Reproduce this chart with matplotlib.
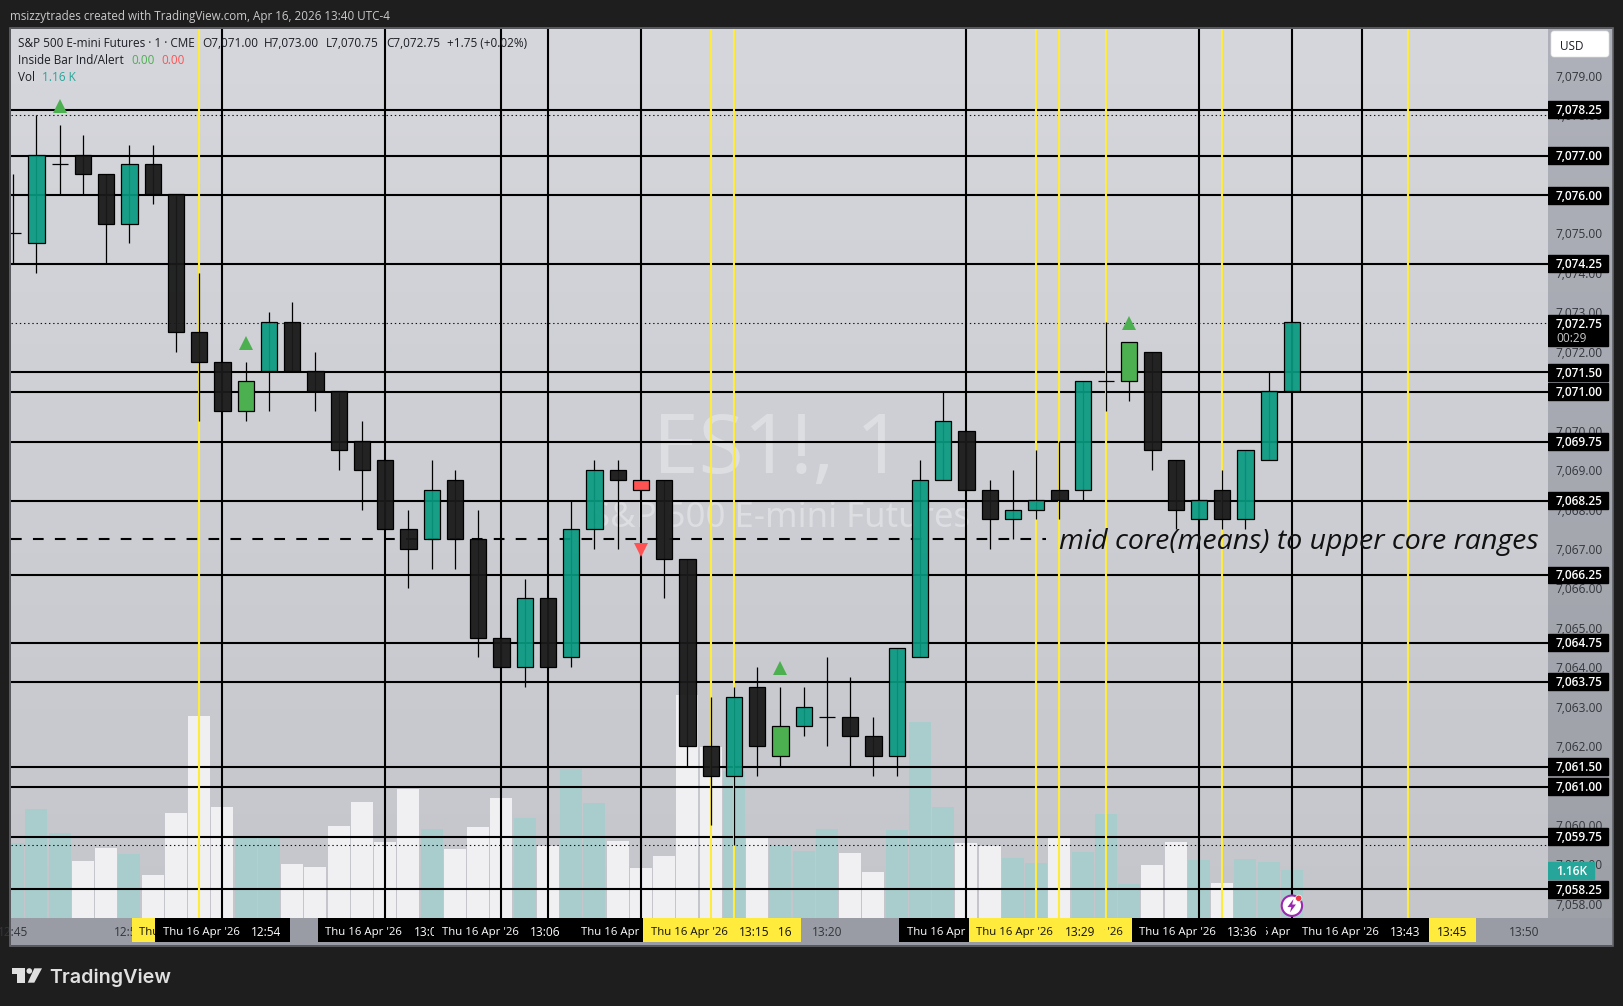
import numpy as np
import matplotlib
matplotlib.use("Agg")
import matplotlib.pyplot as plt
from matplotlib.patches import Rectangle, FancyBboxPatch, Polygon, Circle
from matplotlib.transforms import Affine2D

W, H = 1623, 1006
plt.rcParams["font.family"] = ["Open Sans", "DejaVu Sans"]
plt.rcParams["lines.scale_dashes"] = False

# candles, one per minute starting 12:45
opens = [7075, 7074.75, 7076.75, 7077, 7076.5, 7075.25, 7076.75, 7076, 7072.5, 7071.75,
         7070.5, 7071.5, 7072.75, 7071.5, 7071, 7069.75, 7069.25, 7067.5, 7067.25, 7068.75,
         7067.25, 7064.75, 7064, 7065.75, 7064.25, 7067.5, 7069, 7068.75, 7068.75, 7066.75,
         7062, 7061.25, 7063.5, 7061.75, 7062.5, 7062.75, 7062.75, 7062.25, 7061.75, 7064.25,
         7068.75, 7070, 7068.5, 7067.75, 7068, 7068.5, 7068.5, 7071.25, 7071.25, 7072,
         7069.25, 7067.75, 7068.5, 7067.75, 7069.25, 7071]
highs = [7076.5, 7078, 7077.75, 7077.5, 7076.5, 7077.25, 7077.25, 7076, 7074, 7071.75,
         7071.75, 7073, 7073.25, 7072, 7071, 7070.25, 7069.25, 7068, 7069.25, 7069,
         7068, 7064.75, 7066.25, 7065.75, 7068.25, 7069.25, 7069.25, 7068.75, 7068.75, 7066.75,
         7063.25, 7063.5, 7064, 7063.5, 7063.5, 7064.25, 7063.75, 7062.75, 7064.5, 7069.25,
         7071, 7070, 7068.75, 7069, 7069.5, 7069.75, 7071.25, 7072.75, 7072.25, 7072,
         7069.25, 7068.25, 7069, 7069.5, 7071.5, 7072.75]
lows = [7074.25, 7074, 7076, 7076, 7074.25, 7074.75, 7075.75, 7072, 7070.25, 7070.5,
        7070.25, 7070.5, 7071.5, 7070.5, 7069, 7068, 7067.5, 7066, 7066.5, 7066.5,
        7064.25, 7064, 7063.5, 7064, 7064, 7067, 7067, 7068.5, 7065.75, 7061.5,
        7060, 7059.5, 7061.25, 7061.5, 7062.25, 7062, 7061.5, 7061.25, 7061.25, 7064.25,
        7068.75, 7068.5, 7067, 7067.25, 7067.75, 7067.75, 7068.25, 7070.5, 7070.75, 7069,
        7067.5, 7067.75, 7067.5, 7067.5, 7069.25, 7071]
closes = [7075, 7077, 7076.75, 7076.5, 7075.25, 7076.75, 7076, 7072.5, 7071.75, 7070.5,
          7071.25, 7072.75, 7071.5, 7071, 7069.5, 7069, 7067.5, 7067, 7068.5, 7067.25,
          7064.75, 7064, 7065.75, 7064, 7067.5, 7069, 7068.75, 7068.5, 7066.75, 7062,
          7061.25, 7063.25, 7062, 7062.5, 7063, 7062.75, 7062.25, 7061.75, 7064.5, 7068.75,
          7070.25, 7068.5, 7067.75, 7068, 7068.25, 7068.25, 7071.25, 7071.25, 7072.25, 7069.5,
          7068, 7068.25, 7067.75, 7069.5, 7071, 7072.75]
volumes = [1.81, 2.63, 2.05, 1.38, 1.69, 1.55, 1.04, 2.54, 4.88, 2.68,
           1.93, 1.93, 1.31, 1.23, 2.22, 2.80, 1.84, 3.12, 2.15, 1.67,
           2.20, 2.90, 2.42, 1.73, 3.60, 2.78, 1.85, 1.21, 1.50, 5.39,
           4.13, 3.55, 1.93, 1.74, 1.62, 2.15, 1.57, 1.11, 2.13, 4.74,
           2.68, 1.81, 1.74, 1.45, 1.33, 1.93, 1.60, 2.51, 0.82, 1.28,
           1.84, 1.40, 0.85, 1.43, 1.35, 1.16]
vol_teal = [0, 1, 2, 5, 10, 11, 18, 22, 24, 25, 31, 33, 34, 35, 38, 39, 40, 43, 44, 46, 47, 48, 51, 53, 54, 55]
inside_up = [10, 33, 48]
inside_down = [27]
arrow_up_bars = [2, 10, 33, 48]
arrow_up_prices = [7078.22, 7072.21, 7063.97, 7072.72]
arrow_down_bars = [27]
arrow_down_prices = [7066.97]

# horizontal levels: where they sit, and what the price tag says
level_prices = [7078.14, 7076.97, 7075.97, 7074.23, 7071.48, 7070.99, 7069.72, 7068.22,
                7066.34, 7064.62, 7063.63, 7061.48, 7060.97, 7059.70, 7058.37]
level_tags = ["7,078.25", "7,077.00", "7,076.00", "7,074.25", "7,071.50", "7,071.00", "7,069.75", "7,068.25",
              "7,066.25", "7,064.75", "7,063.75", "7,061.50", "7,061.00", "7,059.75", "7,058.25"]
dotted_prices = [7078, 7072.72, 7059.5]
dashed_price = 7067.25
black_bars = [9, 16, 21, 23, 27, 41, 51, 55, 58]
yellow_bars = [8, 30, 31, 44, 45, 47, 52, 60]
# time tags in the order they stack, and which parts still show through
tag_order = [8, 9, 16, 23, 21, 27, 31, 30, 41, 45, 47, 44, 52, 55, 51, 60, 58]
tag_date_shown = [8, 9, 16, 21, 27, 30, 41, 47, 44, 55, 51, 58]
tag_time_shown = [9, 16, 21, 31, 30, 44, 51, 60, 58]
plain_ticks = [0, 5, 35, 65]
price_ticks = np.arange(7058, 7080)


def bar_time(i):
    m = 12 * 60 + 45 + i
    return f"{m // 60}:{m % 60:02d}"


def bg(ax, top, bottom):
    g = np.linspace(0, 1, 256).reshape(-1, 1, 1)
    img = np.array(top)[None, None, :] * (1 - g) + np.array(bottom)[None, None, :] * g
    ax.imshow(img / 255, extent=(0, 1, 0, 1), transform=ax.transAxes, aspect="auto", zorder=0)


fig = plt.figure(figsize=(W / 100, H / 100), dpi=100, facecolor="#1e1e1e")
px = Affine2D().scale(1, -1).translate(0, H)


def make_axes(x0, y0, x1, y1, zorder):
    a = fig.add_axes([x0 / W, 1 - y1 / H, (x1 - x0) / W, (y1 - y0) / H], zorder=zorder)
    a.set_axis_off()
    return a


L, T, R, B = 10.7, 28.6, 1547.5, 918
xlim = ((L - 13.2) / 23.25, (R - 13.2) / 23.25)
ylim = (7079 - (B - 75.7) / 39.44, 7079 + (75.7 - T) / 39.44)

ax_vol = make_axes(L, T, R, B, 1)
bg(ax_vol, (214, 215, 220), (197, 198, 203))
ax_vol.set_xlim(xlim)
ax_vol.set_ylim(0, (B - T) * 0.02417)
vol_cols = ["#a9cdcd" if i in vol_teal else "#f0f0f2" for i in range(len(volumes))]
ax_vol.bar(np.arange(len(volumes)), volumes, width=0.945, color=vol_cols, zorder=2)

ax = make_axes(L, T, R, B, 2)
ax.patch.set_alpha(0)
ax.set_xlim(xlim)
ax.set_ylim(ylim)

# watermark
wm = "#dddee2"
ax.text((778 - 13.2) / 23.25, 7079 - (452 - 75.7) / 39.44, "ES1!, 1", color=wm, fontsize=59,
        ha="center", va="center", zorder=1, family="Noto Sans")
ax.text((781 - 13.2) / 23.25, 7079 - (518 - 75.7) / 39.44, "S&P 500 E-mini Futures", color=wm, fontsize=25,
        ha="center", va="center", zorder=1, family="Noto Sans")

for p in level_prices:
    ax.axhline(p, color="black", lw=1.5, zorder=3)
for p in dotted_prices:
    ax.axhline(p, color="#111111", lw=0.8, dashes=(1, 2), zorder=3)
ax.plot([xlim[0], 44.4], [dashed_price, dashed_price], color="black", lw=1.5, dashes=(7.7, 8.1), zorder=3)
for b in black_bars:
    ax.axvline(b, color="black", lw=1.5, zorder=3)
for b in yellow_bars:
    ax.axvline(b, color="#ffeb3b", lw=1.5, zorder=3)

# candles
x = np.arange(len(opens))
o, h, l, c = map(np.array, (opens, highs, lows, closes))
body_cols = []
for i in x:
    if i in inside_up:
        body_cols.append((0.298, 0.686, 0.314, 1))
    elif i in inside_down:
        body_cols.append((1, 0.322, 0.322, 1))
    elif c[i] > o[i]:
        body_cols.append((0.03, 0.6, 0.506, 0.92))
    else:
        body_cols.append((0.1, 0.1, 0.1, 0.95))
ax.vlines(x, l, h, color="black", lw=0.9, zorder=5)
ax.bar(x, np.abs(c - o), bottom=np.minimum(o, c), width=0.7, color=body_cols, edgecolor="black", lw=0.9, zorder=6)

ax.plot(arrow_up_bars, arrow_up_prices, "^", color="#4caf50", ms=10, mew=0, zorder=7)
ax.plot(arrow_down_bars, arrow_down_prices, "v", color="#ff5252", ms=10, mew=0, zorder=7)

ax.text(44.97, dashed_price - 0.07, "mid core(means) to upper core ranges", style="italic", fontsize=20.5,
        color="#111111", ha="left", va="center", zorder=8)

# price axis strip
ax_r = make_axes(R, T, 1612.5, B, 3)
bg(ax_r, (175, 177, 186), (158, 160, 168))
ax_r.set_xlim(R, 1612.5)
ax_r.set_ylim(ylim)
for p in price_ticks:
    ax_r.text(1602.5, p, f"{p:,.2f}", color="#33353b", fontsize=8.6, ha="right", va="center_baseline", zorder=2)
for p, s in zip(level_prices, level_tags):
    ax_r.add_patch(Rectangle((1548, p - 0.215), 60, 0.43, color="black", zorder=3))
    ax_r.text(1602.5, p + 0.015, s, color="white", fontsize=8.6, weight="semibold", ha="right", va="center_baseline", zorder=4)
ax_r.add_patch(Rectangle((1548, 7072.15), 60, 0.78, color="black", zorder=3))
ax_r.text(1602.5, 7072.74, "7,072.75", color="white", fontsize=8.6, weight="semibold", ha="right", va="center_baseline", zorder=4)
ax_r.text(1556, 7072.38, "00:29", color="#c8c8c8", fontsize=8.6, ha="left", va="center_baseline", zorder=4)
ax_r.add_patch(Rectangle((1548, 7058.64), 46, 0.423, color="#26a69a", zorder=5))
ax_r.text(1556, 7058.85, "1.16K", color="white", fontsize=8.6, weight="semibold", ha="left", va="center_baseline", zorder=6)

# time axis strip
ax_t = make_axes(L, B, 1612.5, 945, 3)
ax_t.set_facecolor("#9a9ca5")
ax_t.set_axis_on()
ax_t.set_xticks([])
ax_t.set_yticks([])
for s in ax_t.spines.values():
    s.set_visible(False)
ax_t.set_xlim(xlim[0], (1612.5 - 13.2) / 23.25)
ax_t.set_ylim(945, B)
for b in plain_ticks:
    ax_t.text(b, 931, bar_time(b), color="#33353b", fontsize=8.6, ha="center", va="center_baseline", zorder=1)
tag_w = 134.6 / 23.25
for n, b in enumerate(tag_order):
    is_yellow = b in yellow_bars
    z = 2 + n
    ax_t.add_patch(Rectangle((b - tag_w / 2, 918), tag_w, 23.7, color="#ffeb3b" if is_yellow else "black", zorder=z, lw=0))
    col = "#111111" if is_yellow else "white"
    if b in tag_date_shown:
        ax_t.text(b - 0.92, 931.5, "Thu 16 Apr '26", color=col, fontsize=8.2, ha="center", va="center_baseline", zorder=z)
    if b in tag_time_shown:
        ax_t.text(b + 1.88, 931.5, bar_time(b), color=col, fontsize=8.6, ha="center", va="center_baseline", zorder=z)

# header, legend and chrome are placed in pixels
fig.text(10, 15, "msizzytrades created with TradingView.com, Apr 16, 2026 13:40 UTC-4", color="#c9c9c9",
         fontsize=8.4, va="center_baseline", transform=px)
row1 = [(17.9, "S&P 500 E-mini Futures · 1 · CME"), (202.5, "O7,071.00"), (264, "H7,073.00"),
        (325.7, "L7,070.75"), (386, "C7,072.75"), (447, "+1.75 (+0.02%)")]
for tx, s in row1:
    fig.text(tx, 41.7, s, color="#1b1d24", fontsize=8.5, va="center_baseline", transform=px, zorder=5)
fig.text(17.9, 58.7, "Inside Bar Ind/Alert", color="#1b1d24", fontsize=8.5, va="center_baseline", transform=px, zorder=5)
fig.text(131, 58.7, "0.00", color="#4caf50", fontsize=8.5, va="center_baseline", transform=px, zorder=5)
fig.text(161.8, 58.7, "0.00", color="#ff5252", fontsize=8.5, va="center_baseline", transform=px, zorder=5)
fig.text(17.9, 75.7, "Vol", color="#1b1d24", fontsize=8.5, va="center_baseline", transform=px, zorder=5)
fig.text(42, 75.7, "1.16 K", color="#26a69a", fontsize=8.5, va="center_baseline", transform=px, zorder=5)

fig.add_artist(FancyBboxPatch((1553, 33), 54, 22, boxstyle="round,pad=2,rounding_size=3", transform=px,
                              fc="white", ec="#e0e0e0", lw=0.5, zorder=6))
fig.text(1560, 44.5, "USD", color="#1b1d24", fontsize=8.5, va="center_baseline", transform=px, zorder=7)
fig.add_artist(Rectangle((9.7, 27.6), 1603.5, 918, transform=px, fc="none", ec="#64666c", lw=1.2, zorder=8))

# alert icon
fig.add_artist(Circle((1291.9, 905.7), 10.2, transform=px, fc="white", ec="#9c27b0", lw=1.5, zorder=9))
fig.add_artist(Polygon([(1293.5, 899), (1287.5, 907), (1291.3, 907), (1290, 912.5), (1296, 904.5), (1292.2, 904.5)],
                       transform=px, fc="#9c27b0", ec="none", zorder=10))
fig.add_artist(Circle((1298.7, 898.3), 3.2, transform=px, fc="#f23645", ec="white", lw=0.5, zorder=11))

# TradingView logo
logo = "#e0e0e0"
fig.add_artist(Polygon([(12.3, 968.3), (25, 968.3), (25, 982.7), (17, 982.7), (17, 974), (12.3, 974)], transform=px, fc=logo, ec="none"))
fig.add_artist(Circle((29.3, 971), 2.8, transform=px, fc=logo, ec="none"))
fig.add_artist(Polygon([(34.3, 968.3), (42, 968.3), (34.3, 982.7), (27.7, 982.7)], transform=px, fc=logo, ec="none"))
fig.text(49, 982.7, "TradingView", color=logo, fontsize=14.2, family="Inter", weight="semibold", va="baseline", transform=px)

fig.savefig("out.png", dpi=100, facecolor=fig.get_facecolor())
